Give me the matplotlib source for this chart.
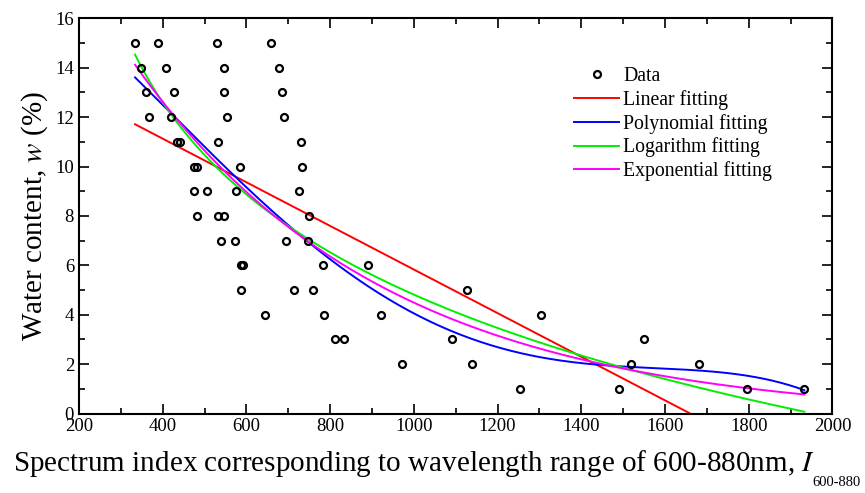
import numpy as np
import matplotlib
matplotlib.use("Agg")
import matplotlib.pyplot as plt
from matplotlib.ticker import MultipleLocator

# spectrum index I(600-880) and measured water content w (%)
index_vals = [
    334, 389, 529, 658,
    347, 408, 546, 678,
    360, 426, 546, 686,
    367, 419, 554, 690,
    435, 442, 531, 730,
    474, 482, 585, 732,
    476, 507, 575, 726,
    482, 533, 547, 750,
    539, 572, 694, 746,
    586, 591, 784, 890,
    587, 713, 760, 1128,
    645, 785, 921, 1304,
    812, 832, 1092, 1551,
    971, 1140, 1518, 1682,
    1254, 1491, 1795, 1933,
]
water_vals = [
    15, 15, 15, 15,
    14, 14, 14, 14,
    13, 13, 13, 13,
    12, 12, 12, 12,
    11, 11, 11, 11,
    10, 10, 10, 10,
    9, 9, 9, 9,
    8, 8, 8, 8,
    7, 7, 7, 7,
    6, 6, 6, 6,
    5, 5, 5, 5,
    4, 4, 4, 4,
    3, 3, 3, 3,
    2, 2, 2, 2,
    1, 1, 1, 1,
]

plt.rcParams["font.family"] = ["Liberation Serif", "DejaVu Serif"]
plt.rcParams["mathtext.fontset"] = "stix"

x = np.array(index_vals, dtype=float)
w = np.array(water_vals, dtype=float)
xs = np.linspace(x.min(), x.max(), 400)


def fit_log(x, w):
    # w = a + b*ln(x + c): scan c, linear least squares for a, b
    best = None
    for c in np.arange(-330, 2000, 1.0):
        X = np.column_stack([np.ones_like(x), np.log(x + c)])
        coef, *_ = np.linalg.lstsq(X, w, rcond=None)
        sse = np.sum((X @ coef - w) ** 2)
        if best is None or sse < best[0]:
            best = (sse, c, coef)
    return best[1], best[2]


def fit_exp(x, w):
    # w = y0 + A*exp(b*x): scan b, linear least squares for A, y0
    best = None
    for b in np.linspace(-0.008, -0.0002, 4000):
        X = np.column_stack([np.exp(b * x), np.ones_like(x)])
        coef, *_ = np.linalg.lstsq(X, w, rcond=None)
        sse = np.sum((X @ coef - w) ** 2)
        if best is None or sse < best[0]:
            best = (sse, b, coef)
    return best[1], best[2]


lin = np.polyval(np.polyfit(x, w, 1), xs)
poly = np.polyval(np.polyfit(x, w, 4), xs)
c, (la, lb) = fit_log(x, w)
logfit = la + lb * np.log(xs + c)
b, (ea, e0) = fit_exp(x, w)
expfit = ea * np.exp(b * xs) + e0

fig = plt.figure(figsize=(8.65, 4.93), dpi=100)
ax = fig.add_axes([0.0913, 0.161, 0.871, 0.802])

ax.plot(x, w, "o", ms=5, mfc="none", mec="black", mew=1.6, label="Data", zorder=5)
ax.plot(xs, lin, color="#ff0000", lw=1.4, label="Linear fitting")
ax.plot(xs, poly, color="#0000ff", lw=1.4, label="Polynomial fitting")
ax.plot(xs, logfit, color="#00ee00", lw=1.4, label="Logarithm fitting")
ax.plot(xs, expfit, color="#ff00ff", lw=1.4, label="Exponential fitting")

ax.set_xlim(200, 2000)
ax.set_ylim(0, 16)
ax.xaxis.set_major_locator(MultipleLocator(200))
ax.xaxis.set_minor_locator(MultipleLocator(100))
ax.yaxis.set_major_locator(MultipleLocator(2))
ax.yaxis.set_minor_locator(MultipleLocator(1))
ax.tick_params(which="both", direction="in", top=True, right=True,
               labelsize=13.5, width=1.2)
ax.tick_params(which="major", length=7)
ax.tick_params(which="minor", length=4)
for s in ax.spines.values():
    s.set_linewidth(1.5)

ax.set_xlabel("Spectrum index corresponding to wavelength range of 600-880nm, "
              r"$\mathit{I}$", fontsize=21)
ax.xaxis.label.set_va("center")
ax.xaxis.set_label_coords(0.444, -0.125)
ax.annotate("600-880", xy=(1, 0), xycoords=ax.xaxis.label, xytext=(-1.5, -3),
            textcoords="offset points", ha="left", va="center", fontsize=10.5)
ax.set_ylabel(r"Water content, $\mathit{w}$ (%)", fontsize=21, labelpad=4)

ax.legend(loc="upper left", bbox_to_anchor=(0.647, 0.897), frameon=False,
          fontsize=14.2, handlelength=2.28, handletextpad=0.2,
          labelspacing=0.2, borderaxespad=0)

fig.savefig("out.png", dpi=100)
